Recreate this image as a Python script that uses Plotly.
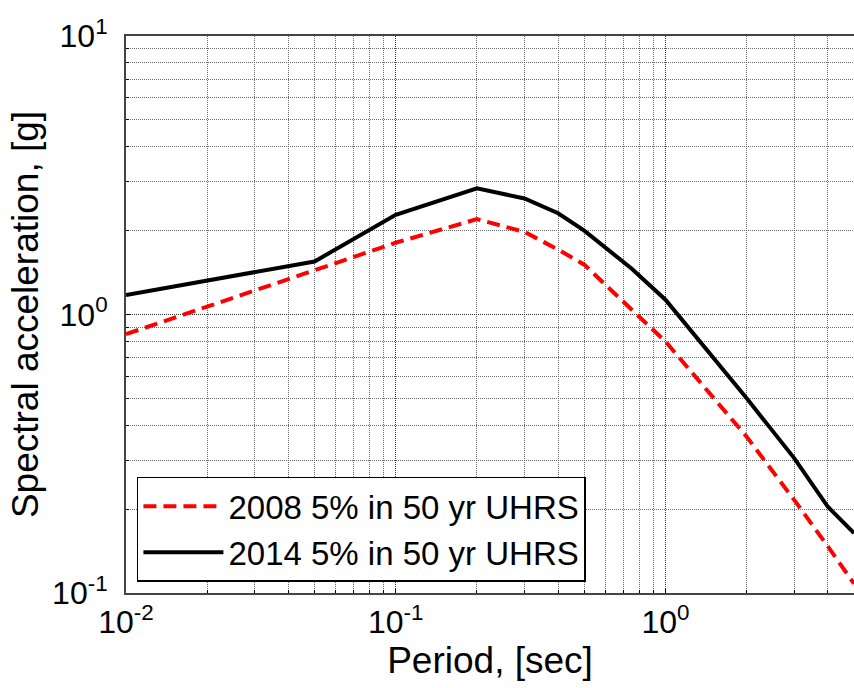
import plotly.graph_objects as go
import numpy as np

periods = [0.01, 0.05, 0.1, 0.2, 0.3, 0.4, 0.5, 0.75, 1.0, 2.0, 3.0, 4.0, 5.0]
uhrs_2008 = [0.85, 1.44, 1.81, 2.20, 1.98, 1.71, 1.51, 1.04, 0.80, 0.364, 0.216, 0.147, 0.108]
uhrs_2014 = [1.175, 1.55, 2.28, 2.84, 2.61, 2.31, 2.00, 1.46, 1.13, 0.50, 0.305, 0.204, 0.164]

names = ["2008 5% in 50 yr UHRS", "2014 5% in 50 yr UHRS"]

x_tickvals = [0.01, 0.1, 1.0]
x_ticktext = ["10<sup>-2</sup>", "10<sup>-1</sup>", "10<sup>0</sup>"]
y_tickvals = [0.1, 1.0, 10.0]
y_ticktext = ["10<sup>-1</sup>", "10<sup>0</sup>", "10<sup>1</sup>"]

FONT = "Liberation Sans, Arial, sans-serif"

fig = go.Figure()
fig.add_trace(go.Scatter(x=periods, y=uhrs_2008, mode="lines", name=names[0],
                         line=dict(color="#ff0000", width=4, dash="13px,7px")))
fig.add_trace(go.Scatter(x=periods, y=uhrs_2014, mode="lines", name=names[1],
                         line=dict(color="#000000", width=4)))

axis_common = dict(
    type="log", automargin=False,
    showline=True, linecolor="#444", linewidth=2, mirror=True,
    ticks="inside", ticklen=4, tickcolor="#000",
    showgrid=True, gridcolor="#333", griddash="1px,1px", gridwidth=1,
    minor=dict(dtick="D1", ticks="inside", ticklen=3, tickcolor="#000",
               showgrid=True, gridcolor="#6a6a6a", griddash="1px,1px", gridwidth=1),
    tickfont=dict(family=FONT, size=32, color="#000"),
    zeroline=False,
)

fig.update_xaxes(**axis_common, range=[np.log10(0.01), np.log10(5)],
                 tickmode="array", tickvals=x_tickvals, ticktext=x_ticktext,
                 title=dict(text="Period, [sec]", font=dict(family=FONT, size=37, color="#000"), standoff=2))
fig.update_yaxes(**axis_common, range=[-1, 1],
                 tickmode="array", tickvals=y_tickvals, ticktext=y_ticktext,
                 ticklabelstandoff=10,
                 title=dict(text="Spectral acceleration, [g]", font=dict(family=FONT, size=37, color="#000"), standoff=2))

fig.update_layout(
    width=854, height=688,
    margin=dict(l=126, r=0, t=36, b=95),
    plot_bgcolor="white", paper_bgcolor="white",
    showlegend=True,
    legend=dict(x=0.015, y=0.02, xanchor="left", yanchor="bottom",
                bgcolor="white", bordercolor="#000", borderwidth=1.5,
                font=dict(family=FONT, size=33, color="#000"),
                itemwidth=80, tracegroupgap=0),
)

fig.write_html("out.html", config={"displayModeBar": False},
               post_script="document.body.style.margin='0';document.body.style.overflow='hidden';")
